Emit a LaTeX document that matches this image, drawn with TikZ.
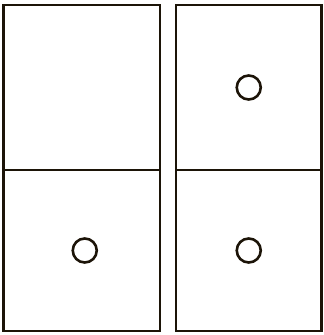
\documentclass[tikz,border=0pt]{standalone}
\usetikzlibrary{positioning}
\definecolor{ink}{RGB}{28,20,8}
\tikzset{
  cell/.style={draw=ink,line width=2.6pt,rectangle,inner sep=0pt,outer sep=0pt},
  leftcol/.style={cell,minimum width=156.5pt},
  rightcol/.style={cell,minimum width=145.5pt},
  hole/.style={draw=ink,circle,line width=2.6pt,minimum size=24pt,inner sep=0pt}
}
\begin{document}
\begin{tikzpicture}[x=1pt,y=-1pt]
  \useasboundingbox (0,0) rectangle (324,335);
  \node[leftcol,minimum height=165pt] (tl) at (81.75,87.5) {};
  \node[leftcol,minimum height=161pt] (bl) at (81.75,250.5) {};
  \node[rightcol,minimum height=165pt] (tr) at (248.75,87.5) {};
  \node[rightcol,minimum height=161pt] (br) at (248.75,250.5) {};

  \node[hole] (htr) at (tr.center) {};
  \node[hole] (hbl) at ([xshift=3pt]bl.center) {};
  \node[hole] (hbr) at (br.center) {};
\end{tikzpicture}
\end{document}
